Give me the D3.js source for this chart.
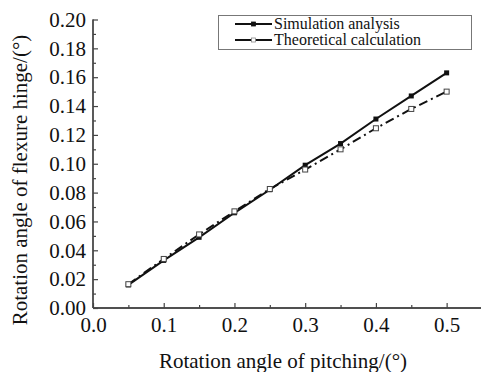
<!DOCTYPE html>
<html><head><meta charset="utf-8">
<script src="https://cdn.jsdelivr.net/npm/d3@7/dist/d3.min.js"></script>
<style>body{margin:0;background:#fff}svg{display:block}</style>
</head><body>
<svg id="c" width="481" height="372"></svg>
<script>
const xValues = [0.05,0.10,0.15,0.20,0.25,0.30,0.35,0.40,0.45,0.50];
const simulation = [0.016,0.033,0.049,0.066,0.082,0.099,0.114,0.131,0.147,0.163];
const theoretical = [0.0165,0.034,0.051,0.067,0.0825,0.096,0.110,0.1246,0.138,0.150];
const seriesNames = ["Simulation analysis","Theoretical calculation"];
const xTicks = [0.0,0.1,0.2,0.3,0.4,0.5];
const yTicks = [0.00,0.02,0.04,0.06,0.08,0.10,0.12,0.14,0.16,0.18,0.20];
const xTitle = "Rotation angle of pitching/(°)";
const yTitle = "Rotation angle of flexure hinge/(°)";

const svg = d3.select("#c");
const font = "'Liberation Serif','Times New Roman',serif";
const L = 93, R = 482, T = 19.5, B = 308;
const x = d3.scaleLinear().domain([0,0.55]).range([L,R]);
const y = d3.scaleLinear().domain([0,0.20]).range([B,T]);

// axes
const gx = svg.append("g").attr("transform",`translate(0,${B})`);
gx.call(d3.axisBottom(x).tickValues(xTicks).tickSize(-5).tickPadding(9).tickFormat(d3.format(".1f")));
gx.append("g").call(d3.axisBottom(x).tickValues(d3.range(0.05,0.56,0.1)).tickSize(-3).tickFormat(""));
const gy = svg.append("g").attr("transform",`translate(${L},0)`);
gy.call(d3.axisLeft(y).tickValues(yTicks).tickSize(-5).tickPadding(7).tickFormat(d3.format(".2f")));
gy.append("g").call(d3.axisLeft(y).tickValues(d3.range(0.01,0.2,0.02)).tickSize(-3).tickFormat(""));
svg.selectAll(".domain").attr("stroke","#444").attr("stroke-width",1.3);
svg.selectAll(".tick line").attr("stroke","#444").attr("stroke-width",1.2);
svg.selectAll(".tick text").attr("font-family",font).attr("font-size",21).attr("fill","#111");
gx.selectAll(".domain").attr("d",`M${L},0H${R}`);
gy.selectAll(".domain").attr("d",`M0,${B}V${T}`);

// titles
svg.append("text").attr("x",283).attr("y",368).attr("text-anchor","middle")
  .attr("font-family",font).attr("font-size",21).attr("fill","#111").text(xTitle);
svg.append("text").attr("transform",`translate(27,180) rotate(-90)`).attr("text-anchor","middle")
  .attr("font-family",font).attr("font-size",21).attr("fill","#111").text(yTitle);

// lines
const line = d3.line().x(d=>x(d[0])).y(d=>y(d[1]));
const simPts = xValues.map((v,i)=>[v,simulation[i]]);
const thPts = xValues.map((v,i)=>[v,theoretical[i]]);
svg.append("path").attr("d",line(thPts)).attr("fill","none").attr("stroke","#111")
  .attr("stroke-width",2).attr("stroke-dasharray","9,4,2,4");
svg.append("path").attr("d",line(simPts)).attr("fill","none").attr("stroke","#111").attr("stroke-width",2);
const s = 5;
svg.selectAll(".sim").data(simPts).join("rect").attr("x",d=>x(d[0])-s/2).attr("y",d=>y(d[1])-s/2)
  .attr("width",s).attr("height",s).attr("fill","#111");
svg.selectAll(".th").data(thPts).join("rect").attr("x",d=>x(d[0])-s/2).attr("y",d=>y(d[1])-s/2)
  .attr("width",s).attr("height",s).attr("fill","#fff").attr("stroke","#444").attr("stroke-width",1);

// legend
const lg = svg.append("g");
lg.append("rect").attr("x",218.5).attr("y",15.5).attr("width",253).attr("height",34)
  .attr("fill","#fff").attr("stroke","#777").attr("stroke-width",1);
seriesNames.forEach((n,i)=>{
  const cy = 24 + i*16;
  lg.append("line").attr("x1",235).attr("x2",272).attr("y1",cy).attr("y2",cy).attr("stroke","#111").attr("stroke-width",2);
  lg.append("rect").attr("x",253.5-2).attr("y",cy-2).attr("width",4).attr("height",4)
    .attr("fill",i===0?"#111":"#fff").attr("stroke",i===0?"#111":"#888").attr("stroke-width",0.8);
  lg.append("text").attr("x",274).attr("y",cy+5).attr("font-family",font).attr("font-size",16)
    .attr("fill","#111").text(n);
});
</script>
</body></html>
